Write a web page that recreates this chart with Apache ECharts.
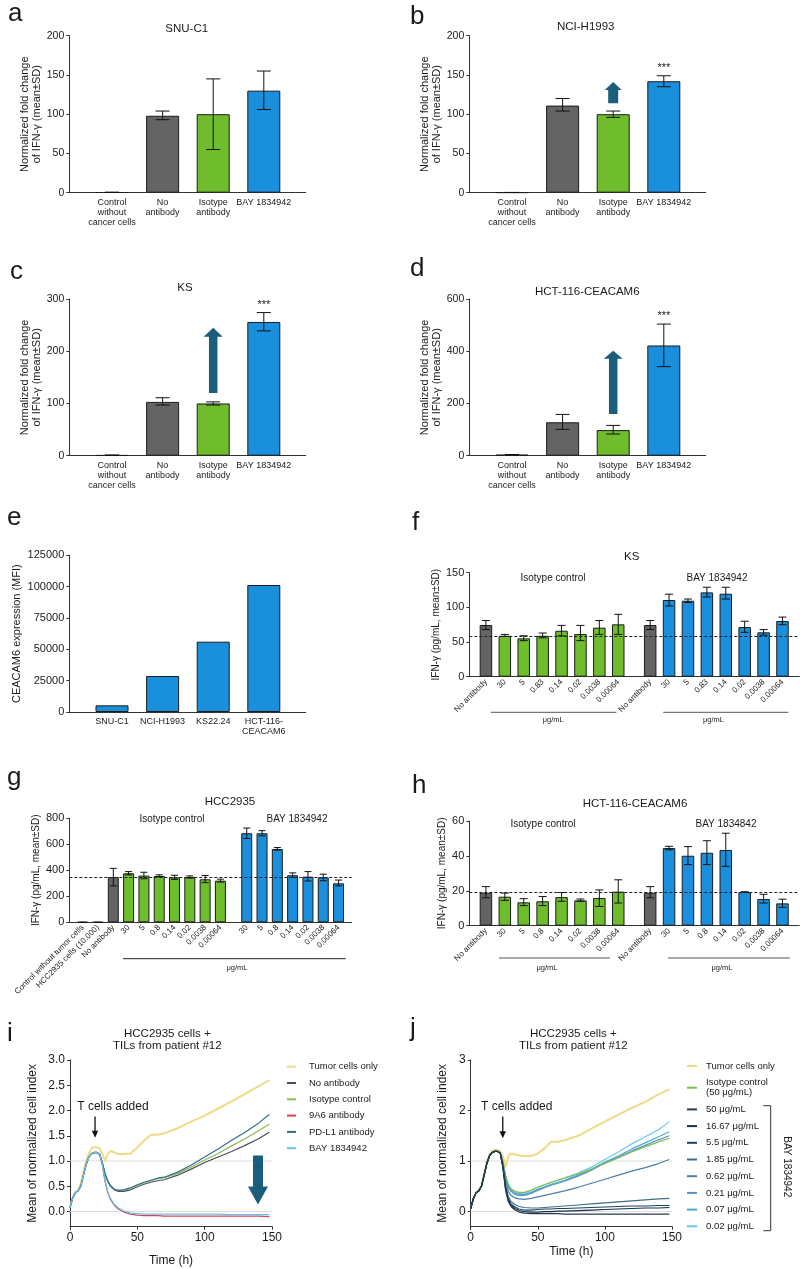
<!DOCTYPE html>
<html><head><meta charset="utf-8">
<script src="https://cdn.jsdelivr.net/npm/echarts@6/dist/echarts.min.js"></script>
<style>html,body{margin:0;padding:0;background:#fff}#c{width:800px;height:1269px}</style>
</head><body><div id="c"></div>
<script>
// ================= DATA =================
// panels a-d
const abcdCategories = ['Control\nwithout\ncancer cells', 'No\nantibody', 'Isotype\nantibody', 'BAY 1834942'];
const abcdColors = ['grey', 'grey', 'green', 'blue'];
const aMean = [0.5, 98, 100, 130], aLow = [0.5, 93, 55, 106], aHigh = [0.5, 104, 145, 155];
const bMean = [0.3, 111, 100, 142], bLow = [0.3, 104, 96, 135], bHigh = [0.3, 120, 104, 149];
const cMean = [1, 103, 100, 256], cLow = [1, 97, 97, 239], cHigh = [1, 111, 103, 274];
const dMean = [4, 128, 98, 422], dLow = [4, 101, 83, 341], dHigh = [4, 158, 116, 504];
const sigNone = ['', '', '', ''];
const sigBay = ['', '', '', '***'];
const arrowB = [114, 141], arrowC = [120, 245], arrowD = [160, 402];
// panel e
const eCategories = ['SNU-C1', 'NCI-H1993', 'KS22.24', 'HCT-116-\nCEACAM6'];
const eValues = [5300, 28700, 56100, 101300];
// panel f
const fLabels = ['No antibody','30','5','0.83','0.14','0.02','0.0038','0.00064','No antibody','30','5','0.83','0.14','0.02','0.0038','0.00064'];
const fColors = ['grey','green','green','green','green','green','green','green','grey','blue','blue','blue','blue','blue','blue','blue'];
const fMean = [74.5, 59, 55.3, 59, 66.3, 61.5, 70.7, 75.5, 74.5, 110.6, 109.6, 121.6, 119.7, 71.6, 64, 80.3];
const fLow  = [68, 58, 52, 56, 59, 52, 61, 61, 68, 102, 107, 115, 112, 64, 60, 75];
const fHigh = [81, 61, 59, 63, 74, 74, 81, 90, 81, 119, 112, 129, 129, 80, 68, 86];
const fRef = 58;
// panel g
const gLabels = ['Control without tumor cells','HCC2935 cells (10.000)','No antibody','30','5','0.8','0.14','0.02','0.0038','0.00064','30','5','0.8','0.14','0.02','0.0038','0.00064'];
const gColors = ['grey','grey','grey','green','green','green','green','green','green','green','blue','blue','blue','blue','blue','blue','blue'];
const gMean = [0, 0, 348, 377, 359, 356, 346, 349, 331, 320, 685, 685, 564, 362, 351, 346, 300];
const gLow  = [0, 0, 280, 365, 335, 350, 330, 340, 305, 310, 645, 665, 555, 345, 318, 320, 280];
const gHigh = [0, 0, 415, 390, 385, 365, 362, 357, 360, 332, 725, 705, 575, 380, 390, 370, 325];
const gRef = 348;
// panel h
const hLabels = ['No antibody','30','5','0.8','0.14','0.02','0.0038','0.00064','No antibody','30','5','0.8','0.14','0.02','0.0038','0.00064'];
const hColors = fColors;
const hMean = [18.9, 16.6, 13.4, 14, 16.4, 14.5, 15.9, 19.5, 18.9, 44.5, 40.1, 41.8, 43.4, 19.3, 15.3, 12.8];
const hLow  = [16, 14.5, 11.5, 11.5, 14, 14, 11, 13, 16, 43.5, 35, 35, 34, 19, 13, 10.5];
const hHigh = [22.4, 18.7, 15.5, 16.7, 19, 15.3, 20.5, 26.3, 22.4, 45.5, 45.3, 48.7, 53, 19.5, 18, 15.2];
const hRef = 18.9;
// panels i, j (time in hours)
const timeH = [0,2,4,6,8,10,12,14,16,18,20,22,24,26,28,30,33,36,40,45,50,55,60,65,70,80,90,100,110,120,130,140,148];
const iTumor = [0.08,0.28,0.38,0.42,0.55,0.78,1.0,1.16,1.25,1.28,1.27,1.25,1.15,1.0,1.14,1.2,1.17,1.14,1.14,1.15,1.27,1.4,1.52,1.52,1.55,1.65,1.78,1.9,2.04,2.18,2.33,2.48,2.6];
const iNoAb  = [0.08,0.27,0.37,0.41,0.5,0.72,0.93,1.08,1.14,1.16,1.16,1.13,0.96,0.74,0.6,0.5,0.43,0.4,0.4,0.43,0.49,0.54,0.58,0.61,0.63,0.72,0.84,0.97,1.08,1.19,1.31,1.44,1.57];
const iIso   = [0.08,0.27,0.37,0.41,0.5,0.72,0.93,1.08,1.15,1.17,1.17,1.14,0.97,0.75,0.61,0.51,0.44,0.42,0.43,0.46,0.52,0.57,0.61,0.65,0.67,0.75,0.88,1.02,1.15,1.3,1.44,1.6,1.73];
const i9A6   = [0.08,0.27,0.37,0.41,0.5,0.72,0.93,1.08,1.15,1.17,1.17,1.14,0.92,0.6,0.38,0.24,0.12,0.05,-0.01,-0.05,-0.07,-0.08,-0.08,-0.08,-0.09,-0.09,-0.09,-0.09,-0.09,-0.09,-0.09,-0.09,-0.1];
const iPDL1  = [0.08,0.27,0.37,0.41,0.5,0.72,0.93,1.08,1.15,1.17,1.17,1.14,0.97,0.75,0.61,0.51,0.44,0.42,0.43,0.47,0.53,0.58,0.62,0.66,0.68,0.78,0.92,1.08,1.24,1.41,1.57,1.75,1.92];
const iBay   = [0.08,0.27,0.37,0.41,0.5,0.72,0.93,1.08,1.15,1.17,1.17,1.14,0.93,0.62,0.4,0.26,0.14,0.07,0.01,-0.03,-0.04,-0.05,-0.05,-0.05,-0.05,-0.05,-0.05,-0.05,-0.05,-0.06,-0.06,-0.06,-0.06];
const iArrow = [139.6, 1.11, 0.14];
const jTumor = [0.06,0.26,0.37,0.41,0.52,0.75,0.98,1.14,1.21,1.23,1.22,1.2,1.1,0.88,1.1,1.15,1.13,1.11,1.1,1.1,1.15,1.25,1.38,1.38,1.41,1.5,1.64,1.78,1.92,2.05,2.17,2.32,2.42];
const jIso   = [0.06,0.26,0.37,0.41,0.5,0.72,0.95,1.1,1.17,1.19,1.19,1.16,0.98,0.72,0.55,0.45,0.4,0.38,0.38,0.42,0.48,0.53,0.58,0.62,0.66,0.74,0.84,0.95,1.06,1.18,1.28,1.38,1.45];
const j50    = [0.06,0.26,0.37,0.41,0.5,0.72,0.95,1.1,1.17,1.19,1.19,1.16,0.87,0.42,0.2,0.1,0.03,-0.01,-0.03,-0.04,-0.04,-0.04,-0.04,-0.04,-0.05,-0.05,-0.05,-0.05,-0.05,-0.05,-0.05,-0.05,-0.05];
const j1667  = [0.06,0.26,0.37,0.41,0.5,0.72,0.95,1.1,1.17,1.19,1.19,1.16,0.88,0.45,0.22,0.12,0.06,0.02,0.0,-0.01,-0.01,0.0,0.0,0.01,0.01,0.02,0.03,0.04,0.05,0.06,0.07,0.07,0.08];
const j55    = [0.06,0.26,0.37,0.41,0.5,0.72,0.95,1.1,1.17,1.19,1.19,1.16,0.9,0.48,0.25,0.15,0.09,0.05,0.03,0.03,0.04,0.05,0.05,0.06,0.06,0.07,0.08,0.09,0.1,0.11,0.11,0.12,0.12];
const j185   = [0.06,0.26,0.37,0.41,0.5,0.72,0.95,1.1,1.17,1.19,1.19,1.16,0.92,0.52,0.3,0.2,0.14,0.1,0.08,0.07,0.07,0.08,0.09,0.1,0.11,0.13,0.15,0.17,0.19,0.21,0.23,0.25,0.26];
const j062   = [0.06,0.26,0.37,0.41,0.5,0.72,0.95,1.1,1.17,1.19,1.19,1.16,0.95,0.6,0.4,0.32,0.27,0.25,0.24,0.26,0.29,0.32,0.35,0.38,0.41,0.48,0.56,0.64,0.72,0.8,0.87,0.95,1.03];
const j021   = [0.06,0.26,0.37,0.41,0.5,0.72,0.95,1.1,1.17,1.19,1.19,1.16,0.97,0.67,0.48,0.4,0.34,0.32,0.32,0.36,0.42,0.47,0.52,0.56,0.6,0.7,0.82,0.96,1.08,1.2,1.31,1.42,1.5];
const j007   = [0.06,0.26,0.37,0.41,0.5,0.72,0.95,1.1,1.17,1.19,1.19,1.16,0.98,0.68,0.5,0.42,0.36,0.34,0.34,0.38,0.44,0.49,0.54,0.58,0.62,0.72,0.84,0.98,1.1,1.24,1.36,1.48,1.58];
const j002   = [0.06,0.26,0.37,0.41,0.5,0.72,0.95,1.1,1.17,1.19,1.19,1.16,0.98,0.7,0.52,0.44,0.38,0.36,0.37,0.42,0.48,0.53,0.58,0.62,0.67,0.76,0.88,1.03,1.18,1.34,1.48,1.62,1.78];
const iYTicks = [0, 0.5, 1, 1.5, 2, 2.5, 3];
const jYTicks = [0, 1, 2, 3];

// ================= STYLE / HELPERS =================
const FONT = '"Liberation Sans", Arial, Helvetica, sans-serif';
const font = s => s + 'px ' + FONT;
const COL = { grey: '#646464', green: '#6fbd2c', blue: '#1a8fdc' };
const ARROW = '#1b5d7c';
const AX = '#333';
const TXT = '#1a1a1a';

const opt = { animation: false, backgroundColor: '#fff', grid: [], xAxis: [], yAxis: [], series: [], legend: [], graphic: { elements: [] } };
const G = opt.graphic.elements;

function addGrid(left, top, width, height) {
  opt.grid.push({ left, top, width, height, containLabel: false });
  return opt.grid.length - 1;
}
function yAx(gi, o) {
  const ax = {
    type: 'value', gridIndex: gi, min: o.min, max: o.max,
    axisLine: { show: true, onZero: false, lineStyle: { color: AX, width: 1 } },
    axisTick: { show: true, length: 3, lineStyle: { color: AX } },
    axisLabel: { fontSize: o.fs || 11, color: TXT, margin: 5, fontFamily: FONT, formatter: v => String(v) },
    splitLine: { show: false },
    name: o.name, nameLocation: 'middle', nameGap: o.nameGap,
    nameTextStyle: { fontSize: o.nameSize || 11, lineHeight: o.nameLH || 12, color: TXT, fontFamily: FONT }
  };
  if (o.interval != null) ax.interval = o.interval;
  if (o.ticks) { ax.axisTick.customValues = o.ticks; ax.axisLabel.customValues = o.ticks; }
  if (o.formatter) ax.axisLabel.formatter = o.formatter;
  opt.yAxis.push(ax);
}
function xBarAx(gi, o) {
  const lookup = v => { const k = o.pos.findIndex(p => Math.abs(p - v) < 1e-6); return k < 0 ? '' : o.labels[k]; };
  opt.xAxis.push({
    type: 'value', gridIndex: gi, min: o.min, max: o.max,
    axisLine: { show: true, onZero: false, lineStyle: { color: AX, width: 1 } },
    axisTick: { show: false }, splitLine: { show: false },
    axisLabel: { customValues: o.pos, formatter: lookup, rotate: o.rotate || 0, fontSize: o.fs, lineHeight: o.lh,
      margin: o.margin, color: TXT, fontFamily: FONT, hideOverlap: false }
  });
}
function bars(gi, pos, values, colors, bw, ref) {
  const s = {
    type: 'bar', name: 'bars' + gi, xAxisIndex: gi, yAxisIndex: gi, barWidth: bw, z: 3,
    data: pos.map((p, i) => ({ value: [p, values[i]], itemStyle: { color: COL[colors[i]] } })),
    itemStyle: { borderColor: '#1c1c1c', borderWidth: 1 }
  };
  if (ref != null) s.markLine = { silent: true, symbol: 'none', label: { show: false }, z: 6,
    lineStyle: { type: [3, 2], color: '#222', width: 1 }, data: [{ yAxis: ref }] };
  opt.series.push(s);
}
function errBars(gi, pos, lows, highs, cap, sig) {
  opt.series.push({
    type: 'custom', xAxisIndex: gi, yAxisIndex: gi, silent: true, z: 5,
    data: pos.map((p, i) => [p, lows[i], highs[i]]),
    renderItem(params, api) {
      const x = api.value(0);
      const lo = api.coord([x, api.value(1)]), hi = api.coord([x, api.value(2)]);
      const st = { stroke: '#111', lineWidth: 1 };
      const ch = [
        { type: 'line', shape: { x1: hi[0], y1: lo[1], x2: hi[0], y2: hi[1] }, style: st },
        { type: 'line', shape: { x1: hi[0] - cap / 2, y1: hi[1], x2: hi[0] + cap / 2, y2: hi[1] }, style: st },
        { type: 'line', shape: { x1: lo[0] - cap / 2, y1: lo[1], x2: lo[0] + cap / 2, y2: lo[1] }, style: st }];
      const s = sig && sig[params.dataIndex];
      if (s) ch.push({ type: 'text', x: hi[0], y: hi[1] - 8, style: { text: s, font: font(11), fill: TXT, align: 'center', verticalAlign: 'middle' } });
      return { type: 'group', children: ch };
    }
  });
}
function fatArrow(gi, xv, y0, y1, sw, hw, hl) {
  opt.series.push({
    type: 'custom', xAxisIndex: gi, yAxisIndex: gi, silent: true, z: 7, data: [[xv, y0, y1]],
    renderItem(params, api) {
      const a = api.coord([api.value(0), api.value(1)]), b = api.coord([api.value(0), api.value(2)]);
      const dir = b[1] < a[1] ? -1 : 1;
      const by = b[1] - dir * hl, x = a[0];
      return { type: 'polygon', shape: { points: [[x - sw / 2, a[1]], [x - sw / 2, by], [x - hw / 2, by], [x, b[1]], [x + hw / 2, by], [x + sw / 2, by], [x + sw / 2, a[1]]] },
        style: { fill: ARROW } };
    }
  });
}
function underlines(gi, yBase, items, dyLine, dyText, color) {
  opt.series.push({
    type: 'custom', xAxisIndex: gi, yAxisIndex: gi, silent: true, z: 5, data: items,
    renderItem(params, api) {
      const a = api.coord([api.value(0), yBase]), b = api.coord([api.value(1), yBase]), t = api.coord([api.value(2), yBase]);
      return { type: 'group', children: [
        { type: 'line', shape: { x1: a[0], y1: a[1] + dyLine, x2: b[0], y2: a[1] + dyLine }, style: { stroke: color, lineWidth: 1 } },
        { type: 'text', x: t[0], y: a[1] + dyText, style: { text: 'μg/mL', font: font(7.5), fill: TXT, align: 'center', verticalAlign: 'middle' } }
      ] };
    }
  });
}
function hLines(gi, vals, x0, x1) {
  opt.series.push({
    type: 'custom', xAxisIndex: gi, yAxisIndex: gi, silent: true, z: 1, data: vals.map(v => [x0, v]),
    renderItem(params, api) {
      const a = api.coord([x0, api.value(1)]), b = api.coord([x1, api.value(1)]);
      return { type: 'line', shape: { x1: a[0], y1: a[1], x2: b[0], y2: b[1] }, style: { stroke: '#dcdcdc', lineWidth: 1 } };
    }
  });
}
function tArrow(gi, xa, y0, y1, xt, yt) {
  opt.series.push({
    type: 'custom', xAxisIndex: gi, yAxisIndex: gi, silent: true, z: 8, data: [[xa, y0, y1, xt, yt]],
    renderItem(params, api) {
      const a = api.coord([api.value(0), api.value(1)]), b = api.coord([api.value(0), api.value(2)]);
      const t = api.coord([api.value(3), api.value(4)]);
      return { type: 'group', children: [
        { type: 'line', shape: { x1: a[0], y1: a[1], x2: b[0], y2: b[1] - 5 }, style: { stroke: '#111', lineWidth: 1.3 } },
        { type: 'polygon', shape: { points: [[b[0] - 3.2, b[1] - 7], [b[0] + 3.2, b[1] - 7], [b[0], b[1]]] }, style: { fill: '#111' } },
        { type: 'text', x: t[0], y: t[1], style: { text: 'T cells added', font: font(12), fill: TXT, align: 'center', verticalAlign: 'middle' } }
      ] };
    }
  });
}
function lineSeries(gi, name, arr, color, width) {
  opt.series.push({ type: 'line', name, xAxisIndex: gi, yAxisIndex: gi, z: 3, showSymbol: false, symbol: 'none',
    data: timeH.map((t, k) => [t, arr[k]]), lineStyle: { color, width }, itemStyle: { color } });
}
function gtext(x, y, text, size, extra) {
  G.push(Object.assign({ type: 'text', x, y, silent: true,
    style: { text, font: font(size), fill: TXT, align: 'center', verticalAlign: 'middle', lineHeight: 12 } }, extra || {}));
}

// ================= PANELS a-d =================
const abcdPos = [0, 1, 2, 3];
function panelABCD(left, top, height, yMax, yInt, mean, low, high, sig) {
  const gi = addGrid(left, top, 236.4, height);
  xBarAx(gi, { pos: abcdPos, labels: abcdCategories, min: -0.844, max: 3.828, fs: 9, lh: 10, margin: 5 });
  yAx(gi, { min: 0, max: yMax, interval: yInt, fs: 10.5, name: 'Normalized fold change\nof IFN-γ (mean±SD)', nameGap: 21, nameSize: 11, nameLH: 12 });
  bars(gi, abcdPos, mean, abcdColors, 33);
  errBars(gi, abcdPos, low, high, 14, sig);
  return gi;
}
panelABCD(69.3, 35.7, 157, 200, 50, aMean, aLow, aHigh, sigNone);
const gB = panelABCD(469.3, 35.7, 157, 200, 50, bMean, bLow, bHigh, sigBay);
fatArrow(gB, 2, arrowB[0], arrowB[1], 10, 17, 8);
const gC = panelABCD(69.3, 299, 156.7, 300, 100, cMean, cLow, cHigh, sigBay);
fatArrow(gC, 2, arrowC[0], arrowC[1], 8.5, 19, 9);
const gD = panelABCD(469.3, 299, 156.7, 600, 200, dMean, dLow, dHigh, sigBay);
fatArrow(gD, 2, arrowD[0], arrowD[1], 8.5, 19, 8);

// ================= PANEL e =================
{
  const gi = addGrid(69.3, 555.3, 236.4, 156.7);
  xBarAx(gi, { pos: abcdPos, labels: eCategories, min: -0.844, max: 3.828, fs: 9, lh: 10, margin: 5 });
  yAx(gi, { min: 0, max: 125000, interval: 25000, fs: 11, name: 'CEACAM6 expression (MFI)', nameGap: 46, nameSize: 11 });
  bars(gi, abcdPos, eValues, ['blue', 'blue', 'blue', 'blue'], 33);
}

// ================= PANEL f =================
{
  const pos = fLabels.map((_, i) => i + (i >= 8 ? 0.69 : 0));
  const gi = addGrid(469.3, 572.7, 330, 104);
  xBarAx(gi, { pos, labels: fLabels, min: -0.88, max: 16.58, fs: 8, margin: 4, rotate: 45 });
  yAx(gi, { min: 0, max: 150, interval: 50, fs: 11, name: 'IFN-γ (pg/mL, mean±SD)', nameGap: 20, nameSize: 10 });
  bars(gi, pos, fMean, fColors, 12.5, fRef);
  errBars(gi, pos, fLow, fHigh, 8);
  underlines(gi, 0, [[0.26, 6.9, 3.56], [9.38, 16.0, 12.04]], 35.6, 43.5, '#555');
}

// ================= PANEL g =================
{
  const pos = gLabels.map((_, i) => i + (i >= 10 ? 0.72 : 0));
  const gi = addGrid(69.3, 818.3, 282.4, 104);
  xBarAx(gi, { pos, labels: gLabels, min: -0.876, max: 17.58, fs: 8, margin: 4, rotate: 45 });
  yAx(gi, { min: 0, max: 800, interval: 200, fs: 11, name: 'IFN-γ (pg/mL, mean±SD)', nameGap: 26, nameSize: 10 });
  bars(gi, pos, gMean, gColors, 11, gRef);
  errBars(gi, pos, gLow, gHigh, 7);
  underlines(gi, 0, [[2.63, 17.19, 10.08]], 36.4, 45.4, '#222');
}

// ================= PANEL h =================
{
  const pos = hLabels.map((_, i) => i + (i >= 8 ? 0.69 : 0));
  const gi = addGrid(469.3, 821, 330, 104.7);
  xBarAx(gi, { pos, labels: hLabels, min: -0.88, max: 16.58, fs: 8, margin: 4, rotate: 45 });
  yAx(gi, { min: 0, max: 60, interval: 20, fs: 11, name: 'IFN-γ (pg/mL, mean±SD)', nameGap: 20, nameSize: 10 });
  bars(gi, pos, hMean, hColors, 12.5, hRef);
  errBars(gi, pos, hLow, hHigh, 8);
  underlines(gi, 0, [[0.69, 6.56, 3.23], [9.63, 16.08, 12.49]], 32.3, 42.3, '#555');
}

// ================= PANELS i, j =================
function timeAxes(gi, ticks, fmt, nameGapX, nameGapY) {
  opt.xAxis.push({
    type: 'value', gridIndex: gi, min: 0, max: 150, interval: 50,
    axisLine: { show: true, onZero: false, lineStyle: { color: AX, width: 1 } },
    axisTick: { show: true, length: 3, lineStyle: { color: AX } },
    axisLabel: { fontSize: 12, color: TXT, margin: 5, fontFamily: FONT },
    splitLine: { show: false },
    name: 'Time (h)', nameLocation: 'middle', nameGap: nameGapX, nameTextStyle: { fontSize: 12, color: TXT, fontFamily: FONT }
  });
  yAx(gi, { min: -0.3, max: 3, ticks, formatter: fmt, fs: 12, name: 'Mean of normalized cell index', nameGap: nameGapY, nameSize: 12 });
}
const CI = { tumor: '#efdb86', noab: '#4b4d60', iso: '#8fb84e', a9: '#dc4256', pdl1: '#2e6f8e', bay: '#63c3ec' };
{
  const gi = addGrid(70, 1060, 202, 166.7);
  timeAxes(gi, iYTicks, v => v.toFixed(1), 28, 31);
  hLines(gi, [0, 1], 0, 150);
  lineSeries(gi, 'Tumor cells only', iTumor, CI.tumor, 2);
  lineSeries(gi, 'No antibody', iNoAb, CI.noab, 1.2);
  lineSeries(gi, 'Isotype control', iIso, CI.iso, 1.2);
  lineSeries(gi, '9A6 antibody', i9A6, CI.a9, 1.2);
  lineSeries(gi, 'PD-L1 antibody', iPDL1, CI.pdl1, 1.2);
  lineSeries(gi, 'BAY 1834942', iBay, CI.bay, 1.2);
  tArrow(gi, 18.6, 1.88, 1.46, 31.9, 2.07);
  fatArrow(gi, iArrow[0], iArrow[1], iArrow[2], 10, 20, 18);
}
const CJ = { tumor: '#efdb86', iso: '#7dc04a', c50: '#2a3a4e', c1667: '#15304f', c55: '#1d425e', c185: '#3d6f87',
  c062: '#4a80a8', c021: '#5a92c0', c007: '#48a8d6', c002: '#6cc6ee' };
{
  const gi = addGrid(470.7, 1060, 201.3, 166.7);
  timeAxes(gi, jYTicks, v => String(Math.round(v)), 19, 22);
  hLines(gi, [0, 1], 0, 150);
  lineSeries(gi, 'Tumor cells only', jTumor, CJ.tumor, 2);
  lineSeries(gi, '0.02 μg/mL', j002, CJ.c002, 1.2);
  lineSeries(gi, '0.07 μg/mL', j007, CJ.c007, 1.2);
  lineSeries(gi, '0.21 μg/mL', j021, CJ.c021, 1.2);
  lineSeries(gi, 'Isotype control\n(50 μg/mL)', jIso, CJ.iso, 1.2);
  lineSeries(gi, '0.62 μg/mL', j062, CJ.c062, 1.2);
  lineSeries(gi, '1.85 μg/mL', j185, CJ.c185, 1.2);
  lineSeries(gi, '5.5 μg/mL', j55, CJ.c55, 1.2);
  lineSeries(gi, '16.67 μg/mL', j1667, CJ.c1667, 1.2);
  lineSeries(gi, '50 μg/mL', j50, CJ.c50, 1.2);
  tArrow(gi, 23.9, 1.88, 1.45, 34.3, 2.07);
}
opt.legend.push({
  orient: 'vertical', left: 287, top: 1061.7, itemGap: 6.3, itemWidth: 9, itemHeight: 2, icon: 'rect', padding: 0,
  selectedMode: false, textStyle: { fontSize: 9.5, lineHeight: 10, color: TXT, fontFamily: FONT, padding: [0, 0, 0, 8] },
  data: ['Tumor cells only', 'No antibody', 'Isotype control', '9A6 antibody', 'PD-L1 antibody', 'BAY 1834942']
});
opt.legend.push({
  orient: 'vertical', left: 687, top: 1061, itemGap: 6.7, itemWidth: 10, itemHeight: 2, icon: 'rect', padding: 0,
  selectedMode: false, textStyle: { fontSize: 9.5, lineHeight: 10, color: TXT, fontFamily: FONT, padding: [0, 0, 0, 4] },
  data: ['Tumor cells only', 'Isotype control\n(50 μg/mL)', '50 μg/mL', '16.67 μg/mL', '5.5 μg/mL', '1.85 μg/mL', '0.62 μg/mL', '0.21 μg/mL', '0.07 μg/mL', '0.02 μg/mL']
});

// ================= TEXT / DECORATION =================
const letters = [['a', 8, 14], ['b', 410, 17], ['c', 10, 272], ['d', 410, 269], ['e', 7, 518], ['f', 412, 523],
  ['g', 7, 778], ['h', 412, 786], ['i', 7, 1034], ['j', 410, 1029]];
letters.forEach(([t, x, y]) => G.push({ type: 'text', x, y, silent: true, style: { text: t, font: font(26), fill: TXT, align: 'left', verticalAlign: 'middle' } }));
gtext(186.7, 29.3, 'SNU-C1', 11.5);
gtext(585.7, 26.7, 'NCI-H1993', 11.5);
gtext(185, 288.3, 'KS', 11.5);
gtext(587.3, 292.3, 'HCT-116-CEACAM6', 11.5);
gtext(631.7, 557.3, 'KS', 11.5);
gtext(230, 801.7, 'HCC2935', 11.5);
gtext(635, 804, 'HCT-116-CEACAM6', 11.5);
gtext(167.3, 1040, 'HCC2935 cells +\nTILs from patient #12', 11.5);
gtext(573.3, 1040, 'HCC2935 cells +\nTILs from patient #12', 11.5);
gtext(553, 578, 'Isotype control', 10);
gtext(717, 578, 'BAY 1834942', 10);
gtext(172, 819, 'Isotype control', 10);
gtext(297, 819, 'BAY 1834942', 10);
gtext(543, 824, 'Isotype control', 10);
gtext(726, 824, 'BAY 1834842', 10);
G.push({ type: 'polyline', silent: true, shape: { points: [[763.3, 1105.7], [770.7, 1105.7], [770.7, 1230.7], [763.3, 1230.7]] },
  style: { stroke: '#333', lineWidth: 1, fill: null } });
gtext(786.7, 1166.7, 'BAY 1834942', 10, { rotation: -Math.PI / 2 });

const chart = echarts.init(document.getElementById('c'), null, { renderer: 'canvas' });
chart.setOption(opt);
</script></body></html>
